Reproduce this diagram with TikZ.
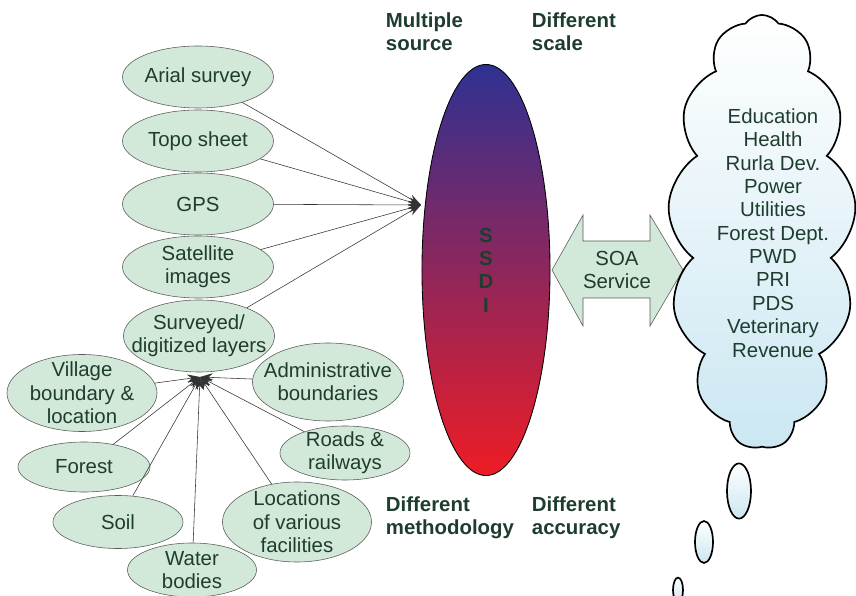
\documentclass[tikz,border=0pt]{standalone}
\usepackage{fontspec}
\setmainfont{Liberation Sans}
\usetikzlibrary{shapes.geometric,shapes.symbols,arrows.meta}

\definecolor{srcgreen}{HTML}{D2E8D8}
\definecolor{txtgreen}{HTML}{1E3D2E}
\definecolor{ssdiblue}{HTML}{2E3192}
\definecolor{ssdimid}{HTML}{A52A65}
\definecolor{ssdired}{HTML}{EE1C25}
\definecolor{cloudblue}{HTML}{CBE7F2}

\newcommand{\ssdifont}{\fontsize{14.5}{16.6}\selectfont}

\tikzset{
  src/.style={ellipse, draw=black!65, fill=srcgreen, inner sep=0pt,
    minimum width=3.775cm, minimum height=1.55cm,
    label={[srctext]center:#1}},
  srctext/.style={align=center, text=txtgreen},
  note/.style={anchor=west, align=left, text=txtgreen, font=\ssdifont\bfseries},
  cloudshape/.style={cloud, cloud puffs=13, cloud puff arc=110, cloud ignores aspect,
    minimum width=4.7cm, minimum height=10.85cm},
  bubble/.style={top color=white, bottom color=cloudblue},
  rim/.style={draw=black, line width=1.2pt},
}

\begin{document}
\begin{tikzpicture}[x=0.025cm, y=-0.025cm, >={Stealth[length=9pt,width=6pt]}, font=\ssdifont, text=txtgreen]
    \useasboundingbox (0,0) rectangle (856,596);

    % Sources
    \node[src={Arial survey}] (arial) at (198,77) {};
    \node[src={Topo sheet}] (topo) at (198,141) {};
    \node[src={GPS}] (gps) at (198,204) {};
    \node[src={Satellite\\images}] (sat) at (198,267) {};
    \node[src={Surveyed/\\digitized layers}, minimum height=1.8cm] (survey) at (199,336) {};

    % Layers
    \node[src={Village\\boundary \&\\location}, minimum width=3.75cm, minimum height=1.925cm] (village) at (82,393) {};
    \node[src={Administrative\\boundaries}, minimum height=1.95cm] (admin) at (328,382) {};
    \node[src={Roads \&\\railways}, minimum width=3.25cm, minimum height=1.35cm] (roads) at (345,453) {};
    \node[src={Forest}, minimum width=3.3cm, minimum height=1.25cm] (forest) at (84,467) {};
    \node[src={Soil}, minimum width=3.25cm, minimum height=1.325cm] (soil) at (118,522) {};
    \node[src={Water\\bodies}, minimum width=3.225cm, minimum height=1.35cm] (water) at (192,570) {};
    \node[src={Locations\\of various\\facilities}, minimum width=3.725cm, minimum height=2cm] (locs) at (297,522) {};

    % SSDI
    \node[ellipse, top color=ssdiblue, middle color=ssdimid, bottom color=ssdired,
      minimum width=3.2cm, minimum height=10.275cm] (ssdi) at (486,270) {};
    \draw[black, line width=0.6pt] (ssdi.center) ellipse [x radius=1.6cm, y radius=5.1375cm];
    \node[align=center, font=\ssdifont\bfseries] (ssdiname) at (ssdi) {S\\S\\D\\I};

    % Notes
    \node[note] (multi) at (381,32) {Multiple\\source};
    \node[note] (scale) at (527,32) {Different\\scale};
    \node[note] (method) at (381,518) {Different\\methodology};
    \node[note] (accur) at (527,518) {Different\\accuracy};

    % Arrow tips
    \coordinate (srcin) at (421,205);
    \coordinate (laytip) at (200,377);

    \foreach \n in {arial,topo,gps,sat,survey}
        \draw[->, black!80] (\n) -- (srcin);
    \foreach \n in {village,admin,roads,forest,soil,water,locs}
        \draw[->, black!80] (\n) -- (laytip);

    % SOA double arrow
    \draw[draw=black!65, fill=srcgreen] (552,270) -- (583,215) -- (583,241) -- (650,241)
        -- (650,215) -- (683,270) -- (650,326) -- (650,298) -- (583,298) -- (583,326) -- cycle;
    \node[align=center] (soa) at (617,270) {SOA\\Service};

    % Cloud and bubbles
    \node[cloudshape, bubble] (cloud) at (762,232) {};
    \node[cloudshape, rim] (cloudrim) at (cloud.center) {};
    \node[align=center] (depts) at (773,233) {Education\\Health\\Rurla Dev.\\Power\\Utilities\\Forest Dept.\\PWD\\PRI\\PDS\\Veterinary\\Revenue};
    \shade[bubble] (739,491) ellipse [x radius=0.3cm, y radius=0.69cm];
    \shade[bubble] (704,542) ellipse [x radius=0.225cm, y radius=0.525cm];
    \shade[bubble] (678,590) ellipse [x radius=0.125cm, y radius=0.31cm];
    \draw[rim] (739,491) ellipse [x radius=0.3cm, y radius=0.69cm];
    \draw[rim] (704,542) ellipse [x radius=0.225cm, y radius=0.525cm];
    \draw[rim] (678,590) ellipse [x radius=0.125cm, y radius=0.31cm];
\end{tikzpicture}
\end{document}
